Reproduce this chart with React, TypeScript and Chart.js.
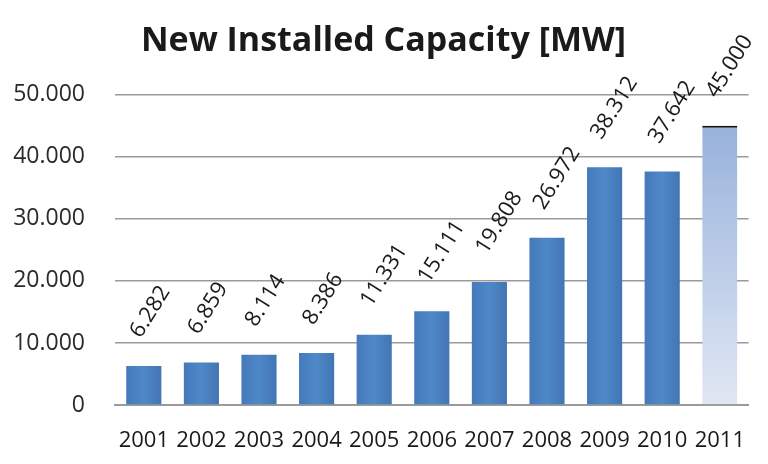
import React, { useEffect, useRef } from "react";
import { Chart, registerables } from "chart.js";

Chart.register(...registerables);

const years = ["2001", "2002", "2003", "2004", "2005", "2006", "2007", "2008", "2009", "2010", "2011"];
const capacity = [6282, 6859, 8114, 8386, 11331, 15111, 19808, 26972, 38312, 37642, 45000];
const yTicks = [0, 10000, 20000, 30000, 40000, 50000];
const titleText = "New Installed Capacity [MW]";

const FONT = "'Open Sans', 'DejaVu Sans', sans-serif";

function fmt(v: number): string {
  const s = Math.round(v).toString();
  return s.replace(/\B(?=(\d{3})+(?!\d))/g, ".");
}

const dataLabelPlugin = {
  id: "rotLabels",
  afterDatasetsDraw(chart: any) {
    const ctx = chart.ctx;
    const meta = chart.getDatasetMeta(0);
    ctx.save();
    ctx.font = `22px ${FONT}`;
    ctx.fillStyle = "#1a1a1a";
    ctx.textAlign = "left";
    ctx.textBaseline = "alphabetic";
    meta.data.forEach((el: any, i: number) => {
      ctx.save();
      ctx.translate(el.x - 3, el.y - 27);
      ctx.rotate((-58 * Math.PI) / 180);
      ctx.fillText(fmt(capacity[i]), 0, 0);
      ctx.restore();
    });
    ctx.restore();
  },
};

export default function App() {
  const ref = useRef<HTMLCanvasElement | null>(null);
  useEffect(() => {
    if (!ref.current) return;
    const last = capacity.length - 1;
    const chart = new Chart(ref.current, {
      type: "bar",
      data: {
        labels: years,
        datasets: [
          {
            data: capacity,
            backgroundColor: (c: any) => {
              const ch = c.chart;
              const xs = ch.scales?.x;
              const ys = ch.scales?.y;
              if (!ch.chartArea || !xs || !ys || c.dataIndex === undefined) return "#4a84c4";
              const i = c.dataIndex;
              if (i === last) {
                const g = ch.ctx.createLinearGradient(0, ys.getPixelForValue(capacity[i]), 0, ys.getPixelForValue(0));
                g.addColorStop(0, "#98b2dc");
                g.addColorStop(1, "#e0e7f3");
                return g;
              }
              const cx = xs.getPixelForValue(i);
              const g = ch.ctx.createLinearGradient(cx - 18, 0, cx + 18, 0);
              g.addColorStop(0, "#4479ba");
              g.addColorStop(0.5, "#4f88c8");
              g.addColorStop(1, "#4274b2");
              return g;
            },
            borderColor: "#111111",
            borderWidth: capacity.map((_, i) =>
              i === last ? { top: 2, left: 0, right: 0, bottom: 0 } : 0
            ) as any,
            borderSkipped: false,
            categoryPercentage: 0.61,
            barPercentage: 1,
          },
        ],
      },
      options: {
        animation: false,
        responsive: true,
        maintainAspectRatio: false,
        layout: { padding: { left: 0, right: 1, top: 0, bottom: 0 } },
        plugins: {
          legend: { display: false },
          tooltip: { enabled: false },
          title: {
            display: true,
            text: titleText,
            color: "#1a1a1a",
            font: { family: FONT, size: 34, weight: "bold" },
            padding: { top: 21, bottom: 33 },
          },
        },
        scales: {
          x: {
            grid: { display: false, drawTicks: false },
            border: { display: true, color: "#9a9a9a", width: 2 },
            ticks: {
              color: "#1a1a1a",
              font: { family: FONT, size: 22 },
              padding: 23,
              maxRotation: 0,
              autoSkip: false,
            },
            afterFit: (s: any) => {
              s.height = 59;
            },
          },
          y: {
            min: 0,
            max: 50000,
            afterBuildTicks: (s: any) => {
              s.ticks = yTicks.map((v) => ({ value: v }));
            },
            grid: { color: "#9a9a9a", lineWidth: 1.5, drawTicks: false },
            border: { display: false },
            ticks: {
              color: "#2a2a2a",
              font: { family: FONT, size: 23 },
              padding: 30,
              callback: (v: any) => fmt(Number(v)),
            },
            afterFit: (s: any) => {
              s.width = 115;
            },
          },
        },
      },
      plugins: [dataLabelPlugin],
    });
    return () => chart.destroy();
  }, []);
  return (
    <div style={{ position: "fixed", left: 0, top: 0, width: 768, height: 464, background: "#ffffff" }}>
      <canvas ref={ref} />
    </div>
  );
}
